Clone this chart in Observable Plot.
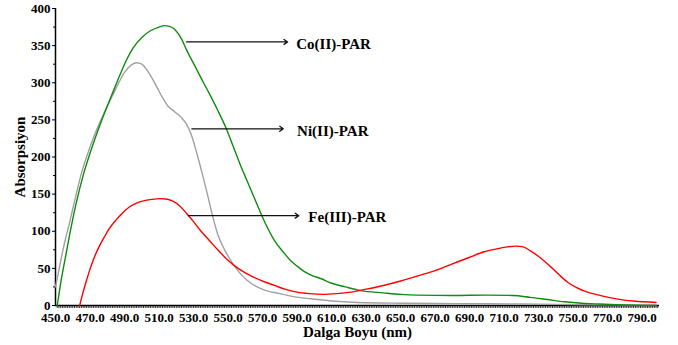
<!DOCTYPE html>
<html>
<head>
<meta charset="utf-8">
<script src="https://cdn.jsdelivr.net/npm/d3@7"></script>
<script src="https://cdn.jsdelivr.net/npm/@observablehq/plot@0.6"></script>
<style>
  html, body { margin: 0; padding: 0; background: white; }
</style>
</head>
<body>
<div id="chart"></div>
<script>
// Co(II)-PAR (green)
const coNm  = [451,453,456,459,462,466,470,474,478,482,486,490,495,500,505,510,513,516,519,523,526,530,534,539,544,549,553,557,561,565,569,573,577,582,586,590,594,598,604,610,618,627,640,650,660,680,700,715,725,735,745,755,765,775,785,798];
const coAbs = [0,30,68,105,138,175,205,232,257,280,303,325,347,361,370,375,377,376,372,359,344,326,308,286,263,238,214,190,168,146,124,104,87,72,61,53,46,41,36,30,25,20,17,15,14,13.5,14,13.5,11,8,5,3,2,1.2,0.5,0];
// Ni(II)-PAR (gray)
const niNm  = [450,452,455,458,462,465,468,472,476,480,485,490,494,497,500,503,506,509,512,515,519,523,526,529,532,535,538,541,544,548,552,556,561,566,572,580,588,598,610,625,650,680,720,760,798];
const niAbs = [25,48,82,110,150,178,200,226,248,268,292,314,324,327,325,317,306,293,280,269,261,253,244,228,204,178,150,121,96,75,59,46,34,26,20,16,12,9,6,4,3,2.5,2,1,0.5];
// Fe(III)-PAR (red)
const feNm  = [464,466,468,470,472,475,478,481,485,489,493,497,501,506,510,514,518,522,526,530,534,539,544,549,554,560,565,571,577,583,590,597,605,613,621,630,640,650,660,670,680,690,698,705,712,717,721,725,730,737,742,747,752,757,765,775,785,798];
const feAbs = [0,18,34,49,62,78,91,103,115,125,133,138,141,143,144,143.5,140.5,134,124,113,101,88,75,63,53,44,38,32,27,22,18,16,15,16,18,22,27,33,40,47,56,65,72,76,79,80,79,74,66,52,41,31,24,19,14,9,6,4];

// tick labels
const xTickValues = d3.range(450, 791, 20);
const yTickValues = d3.range(0, 401, 50);

// annotations (data coordinates)
const labels   = ["Co(II)-PAR", "Ni(II)-PAR", "Fe(III)-PAR"];
const arrowX1  = [526, 529, 527];
const arrowX2  = [584.5, 582, 591];
const arrowY   = [355, 238, 121];
const labelX   = [589.5, 590, 596.5];

const toRows = (xs, ys) => xs.map((x, i) => ({x, y: ys[i]}));
const co = toRows(coNm, coAbs), ni = toRows(niNm, niAbs), fe = toRows(feNm, feAbs);
const ann = labels.map((t, i) => ({t, x1: arrowX1[i], x2: arrowX2[i], y: arrowY[i], lx: labelX[i]}));

const chart = Plot.plot({
  width: 678,
  height: 345,
  marginLeft: 55,
  marginRight: 19,
  marginTop: 8,
  marginBottom: 40,
  style: {fontFamily: "'Liberation Serif', serif", fontWeight: "bold", fontSize: "13px", background: "white", color: "black"},
  x: {domain: [450, 800]},
  y: {domain: [0, 400]},
  marks: [
    Plot.axisX({ticks: d3.range(451, 800, 1), tickSize: 3, text: null, label: null, strokeWidth: 0.8}),
    Plot.axisX({ticks: xTickValues, tickSize: 0, tickPadding: 7, tickFormat: d3.format(".1f"), label: null, fontSize: 13}),
    Plot.axisY({ticks: d3.range(25, 400, 50), tickSize: 2, text: null, label: null}),
    Plot.axisY({ticks: yTickValues, tickSize: 3, tickPadding: 2, label: null, fontSize: 13}),
    Plot.ruleX([450], {strokeWidth: 1.5}),
    Plot.ruleY([0], {strokeWidth: 1.5}),
    Plot.line(ni, {x: "x", y: "y", stroke: "#a0a0a0", strokeWidth: 1.4, curve: "monotone-x"}),
    Plot.line(co, {x: "x", y: "y", stroke: "#108a10", strokeWidth: 1.4, curve: "monotone-x"}),
    Plot.line(fe, {x: "x", y: "y", stroke: "#ff0000", strokeWidth: 1.4, curve: "monotone-x"}),
    Plot.arrow(ann, {x1: "x1", x2: "x2", y1: "y", y2: "y", stroke: "#111", strokeWidth: 1.3, headLength: 5, headAngle: 70}),
    Plot.text(ann, {x: "lx", y: "y", text: "t", textAnchor: "start", lineAnchor: "middle", dy: 2, fontSize: 15}),
    Plot.text(["Dalga Boyu (nm)"], {frameAnchor: "bottom", lineAnchor: "middle", textAnchor: "middle", dy: 27, fontSize: 15}),
    Plot.text(["Absorpsiyon"], {frameAnchor: "left", rotate: -90, textAnchor: "middle", lineAnchor: "middle", dx: -35, fontSize: 15})
  ]
});
document.getElementById("chart").appendChild(chart);
</script>
</body>
</html>
